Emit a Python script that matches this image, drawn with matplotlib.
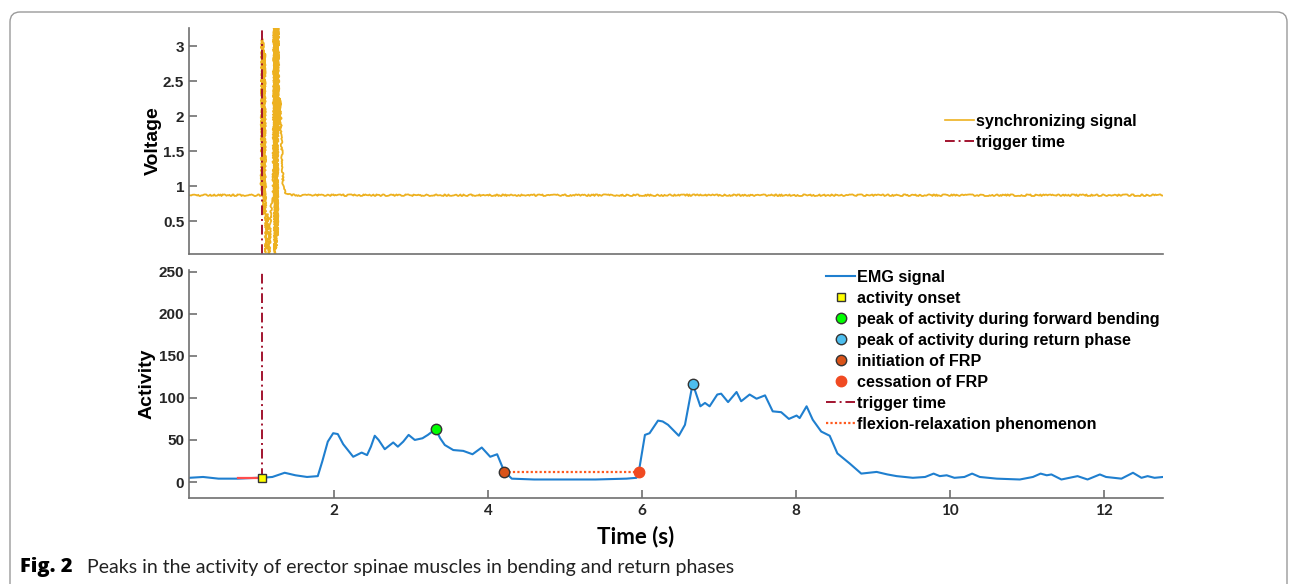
import matplotlib
matplotlib.use("Agg")
import matplotlib.pyplot as plt
from matplotlib.patches import FancyBboxPatch
from matplotlib.lines import Line2D
from matplotlib.transforms import IdentityTransform

# synchronizing signal (voltage)
sync_t = [0.12, 0.5, 1.0, 1.055, 1.065, 1.072, 1.08, 1.09, 1.10, 1.115, 1.125, 1.135,
          1.145, 1.16, 1.175, 1.19, 1.21, 1.222, 1.232, 1.242, 1.25, 1.258, 1.266,
          1.275, 1.283, 1.30, 1.32, 1.34, 1.36, 1.39, 1.5, 12.77]
sync_v = [0.87, 0.87, 0.87, 0.87, 3.1, 0.9, 3.05, 0.6, 2.9, 0.05, 0.3, 0.6,
          0.2, 0.02, 0.5, 0.82, 0.85, 3.3, 0.0, 3.3, 0.1, 3.3, 0.3,
          3.3, 1.8, 2.25, 1.6, 1.0, 0.92, 0.88, 0.87, 0.87]

# EMG activity
emg_t = [0.12, 0.3, 0.5, 0.75, 1.0, 1.06, 1.2, 1.36, 1.5, 1.65, 1.79, 1.85, 1.92, 1.99,
         2.05, 2.12, 2.25, 2.36, 2.43, 2.48, 2.53, 2.58, 2.66, 2.77, 2.83, 2.90, 2.97,
         3.05, 3.15, 3.22, 3.32, 3.38, 3.44, 3.55, 3.68, 3.80, 3.86, 3.92, 3.97, 4.03,
         4.12, 4.21, 4.31, 4.6, 5.0, 5.4, 5.8, 5.93, 5.96, 6.04, 6.10, 6.21, 6.27, 6.34,
         6.48, 6.56, 6.66, 6.76, 6.82, 6.88, 6.98, 7.03, 7.12, 7.23, 7.29, 7.40, 7.49,
         7.60, 7.70, 7.81, 7.91, 8.01, 8.05, 8.14, 8.22, 8.33, 8.44, 8.54, 8.70, 8.85,
         9.05, 9.19, 9.31, 9.52, 9.68, 9.79, 9.87, 9.96, 10.06, 10.19, 10.29, 10.39,
         10.61, 10.91, 11.08, 11.18, 11.26, 11.32, 11.45, 11.66, 11.79, 11.95, 12.03,
         12.23, 12.38, 12.49, 12.57, 12.66, 12.77]
emg_v = [5, 6, 4, 4, 5, 5, 6, 11, 8, 6, 7, 25, 48, 58,
         57, 45, 30, 35, 32, 42, 55, 50, 39, 47, 42, 48, 56,
         50, 52, 56, 63, 52, 44, 38, 37, 33, 37, 41, 36, 30,
         33, 13, 4, 3, 3, 3, 4, 5, 12, 56, 58, 73, 72, 68,
         55, 68, 117, 90, 94, 90, 104, 105, 95, 107, 96, 104, 99,
         103, 84, 83, 75, 79, 76, 90, 74, 60, 55, 34, 22, 10,
         12, 9, 7, 5, 6, 10, 7, 8, 5, 6, 10, 6,
         4, 3, 6, 10, 8, 9, 3, 7, 3, 9, 6,
         4, 11, 5, 7, 5, 6]

trigger = 1.06
onset = (1.06, 4.5)
onset_base = [0.75, 1.06]
peak_fwd = (3.32, 63)
peak_ret = (6.66, 117)
frp_start = (4.21, 12.3)
frp_end = (5.96, 12.3)

xlim = (0.117, 12.77)
axis_col = "#707070"
tick_font = ["Liberation Sans", "DejaVu Sans"]
cap_font = ["Lato", "DejaVu Sans"]
sync_col = "#EDB120"
trig_col = "#A2142F"
frp_col = "#FF5A1F"
dashdot = (0, (5, 2, 1, 2))

fig = plt.figure(figsize=(12.9, 5.84), dpi=100)

# rounded frame around the figure panel (pixel coords)
frame = FancyBboxPatch((10, -30), 1277, 602, boxstyle="round,pad=0,rounding_size=10",
                       transform=IdentityTransform(), fill=False, edgecolor="#9a9a9a",
                       linewidth=1.0, clip_on=False)
fig.patches.append(frame)

ax1 = fig.add_axes([189 / 1290, 1 - 254 / 584, (1163 - 189) / 1290, (254 - 28) / 584])
ax2 = fig.add_axes([189 / 1290, 1 - 498 / 584, (1163 - 189) / 1290, (498 - 270) / 584])

for ax in (ax1, ax2):
    for s in ("top", "right"):
        ax.spines[s].set_visible(False)
    for s in ("left", "bottom"):
        ax.spines[s].set_color(axis_col)
        ax.spines[s].set_linewidth(1.2)
    ax.set_xlim(*xlim)
    ax.tick_params(direction="in", length=6, width=1.2, color=axis_col,
                   labelsize=11, labelcolor="#262626")

legend_kw = dict(loc="upper left", bbox_transform=fig.transFigure, frameon=False,
                 handlelength=1.8, handletextpad=0.15, labelspacing=0.37, borderpad=0,
                 borderaxespad=0, prop={"family": tick_font, "weight": "bold", "size": 11.6})

# top panel
sync_line, = ax1.plot(sync_t, sync_v, color=sync_col, lw=1.3)
sync_line.set_sketch_params(scale=0.8, length=2, randomness=30)
ax1.axvline(trigger, color=trig_col, lw=1.4, linestyle=dashdot)
ax1.set_ylim(0.03, 3.26)
ax1.set_yticks([0.5, 1, 1.5, 2, 2.5, 3])
ax1.set_yticklabels(["0.5", "1", "1.5", "2", "2.5", "3"])
ax1.set_xticks([])
ax1.set_ylabel("Voltage", fontsize=14, fontweight="bold", family=tick_font, labelpad=1)
h1 = [Line2D([], [], color=sync_col, lw=1.2), Line2D([], [], color=trig_col, lw=1.4, linestyle=dashdot)]
ax1.legend(h1, ["synchronizing signal", "trigger time"],
           bbox_to_anchor=(945 / 1290, 1 - 114 / 584), **legend_kw)

# bottom panel
ax2.plot(emg_t, emg_v, color="#1f7fcf", lw=1.5, label="EMG signal", zorder=2,
         solid_joinstyle="round")
ax2.plot(onset_base, [onset[1], onset[1]], color="#ff4d4d", lw=1.6, zorder=2)
ax2.plot([trigger, trigger], [onset[1], 250], color=trig_col, lw=1.4,
         linestyle=dashdot, zorder=3)
ax2.plot([frp_start[0], frp_end[0]], [frp_start[1], frp_end[1]], color=frp_col,
         lw=1.6, linestyle=(0, (1, 1)), zorder=3)
ax2.plot(*onset, "s", ms=6, mfc="#FFFF00", mec="#333333", mew=1.0, zorder=5, label="activity onset")
ax2.plot(*peak_fwd, "o", ms=7.5, mfc="#00FF00", mec="#333333", mew=1.0, zorder=5,
         label="peak of activity during forward bending")
ax2.plot(*peak_ret, "o", ms=7.5, mfc="#4DBEEE", mec="#333333", mew=1.0, zorder=5,
         label="peak of activity during return phase")
ax2.plot(*frp_start, "o", ms=7.5, mfc="#D95319", mec="#333333", mew=1.0, zorder=5,
         label="initiation of FRP")
ax2.plot(*frp_end, "o", ms=7.5, mfc="#F04A22", mec="#F04A22", mew=1.0, zorder=5,
         label="cessation of FRP")
# legend-only proxies for the two styled lines
ax2.plot([], [], color=trig_col, lw=1.4, linestyle=dashdot, label="trigger time")
ax2.plot([], [], color=frp_col, lw=1.6, linestyle=(0, (1, 1)),
         label="flexion-relaxation phenomenon")

ax2.set_ylim(-19, 252)
ax2.set_yticks([0, 50, 100, 150, 200, 250])
ax2.set_xticks([2, 4, 6, 8, 10, 12])
ax2.set_ylabel("Activity", fontsize=14, fontweight="bold", family=tick_font, labelpad=2)
ax2.set_xlabel("Time (s)", fontsize=16, fontweight="bold", family=cap_font)
ax2.xaxis.set_label_coords((636 - 189) / 974, -(537 - 498) / 228)
ax2.xaxis.label.set_va("center")
for lab in ax2.get_xticklabels():
    lab.set_family(cap_font)
    lab.set_fontweight("bold")
    lab.set_fontsize(11)
for ax in (ax1, ax2):
    for lab in ax.get_yticklabels():
        lab.set_family(tick_font)
        lab.set_fontweight("bold")
ax2.tick_params(axis="x", pad=4)

ax2.legend(bbox_to_anchor=(826 / 1290, 1 - 270 / 584), **legend_kw)

# caption
fig.text(20 / 1290, 1 - 567 / 584, "Fig. 2", fontsize=14.5, fontweight="heavy",
         family=["Open Sans", "DejaVu Sans"], va="center", ha="left")
fig.text(87 / 1290, 1 - 567 / 584,
         "Peaks in the activity of erector spinae muscles in bending and return phases",
         fontsize=14, family=cap_font, va="center", ha="left", color="#222222")

fig.savefig("out.png", dpi=100)
